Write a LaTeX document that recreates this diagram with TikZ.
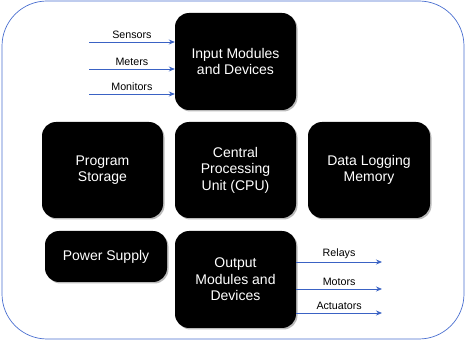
\documentclass[tikz,border=0pt]{standalone}
\usepackage{fontspec}
\setmainfont{Liberation Sans}
\usetikzlibrary{shadows,arrows.meta}
\definecolor{arrblue}{HTML}{3A62C4}
\definecolor{frameblue}{HTML}{4A6FD0}
\tikzset{
  blk/.style={fill=black, rounded corners=14pt, text=white, align=center,
    font=\fontsize{14}{16.5}\selectfont, inner sep=0pt,
    drop shadow={shadow xshift=1.5pt, shadow yshift=-1.5pt, fill=black!45, opacity=0.6}},
  arr/.style={draw=arrblue, line width=0.8pt, -{Stealth[length=6pt,width=5pt]}},
  lbl/.style={font=\fontsize{10.7}{12}\selectfont, inner sep=1pt}
}
\begin{document}
\begin{tikzpicture}[x=1pt,y=-1pt]
\useasboundingbox (0,0) rectangle (467,342);
\draw[frameblue, line width=0.7pt, rounded corners=45pt] (2,1) rectangle (464,339);

\node[blk, minimum width=121pt, minimum height=97pt] (in) at (235.5,61.5) {Input Modules\\and Devices};
\node[blk, minimum width=121pt, minimum height=96pt] (ps) at (102.5,170) {Program\\Storage};
\node[blk, minimum width=121pt, minimum height=96pt] (cpu) at (235.5,170) {Central\\Processing\\Unit (CPU)};
\node[blk, minimum width=122pt, minimum height=96pt] (dl) at (369,170) {Data Logging\\Memory};
\node[blk, minimum width=122pt, minimum height=51pt] (pw) at (106,256.5) {Power Supply};
\node[blk, minimum width=121pt, minimum height=97pt] (out) at (235.5,279.5) {Output\\Modules and\\Devices};

\coordinate (s1) at (89,42);
\coordinate (s2) at (89,69);
\coordinate (s3) at (89,94);
\draw[arr] (s1) -- (s1 -| in.west) node[lbl, midway, above=2pt] {Sensors};
\draw[arr] (s2) -- (s2 -| in.west) node[lbl, midway, above=2pt] {Meters};
\draw[arr] (s3) -- (s3 -| in.west) node[lbl, midway, above=2pt] {Monitors};

\coordinate (e1) at (382,262);
\coordinate (e2) at (382,289);
\coordinate (e3) at (382,313);
\draw[arr] (e1 -| out.east) -- (e1) node[lbl, midway, above=2pt] {Relays};
\draw[arr] (e2 -| out.east) -- (e2) node[lbl, midway, above=2pt] {Motors};
\draw[arr] (e3 -| out.east) -- (e3) node[lbl, midway, above=2pt] {Actuators};
\end{tikzpicture}
\end{document}
